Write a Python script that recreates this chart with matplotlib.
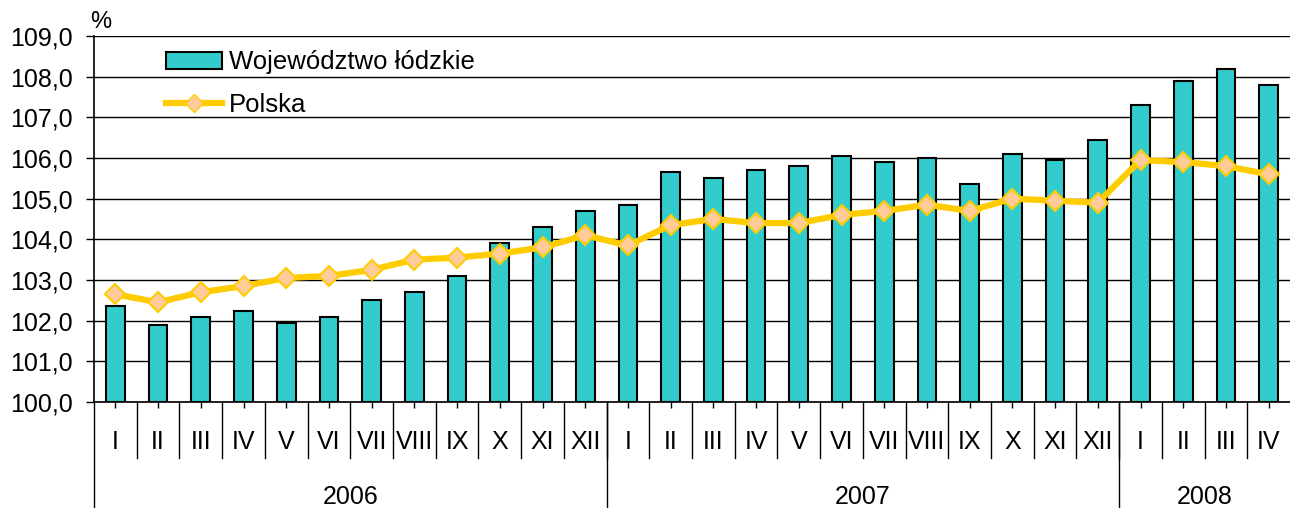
import matplotlib
matplotlib.use('Agg')
import matplotlib.pyplot as plt
import matplotlib.transforms as mtransforms
from matplotlib.lines import Line2D
from matplotlib.patches import Patch

plt.rcParams['font.family'] = ['Liberation Sans', 'DejaVu Sans']

months = ['I', 'II', 'III', 'IV', 'V', 'VI', 'VII', 'VIII', 'IX', 'X', 'XI', 'XII',
          'I', 'II', 'III', 'IV', 'V', 'VI', 'VII', 'VIII', 'IX', 'X', 'XI', 'XII',
          'I', 'II', 'III', 'IV']
years = ['2006', '2007', '2008']
year_counts = [12, 12, 4]

lodzkie = [102.35, 101.9, 102.1, 102.25, 101.95, 102.1, 102.5, 102.7, 103.1, 103.9, 104.3, 104.7,
           104.85, 105.65, 105.5, 105.7, 105.8, 106.05, 105.9, 106.0, 105.35, 106.1, 105.95, 106.45,
           107.3, 107.9, 108.2, 107.8]
polska = [102.65, 102.45, 102.7, 102.85, 103.05, 103.1, 103.25, 103.5, 103.55, 103.65, 103.8, 104.1,
          103.85, 104.35, 104.5, 104.4, 104.4, 104.6, 104.7, 104.85, 104.7, 105.0, 104.95, 104.9,
          105.95, 105.9, 105.8, 105.6]

fig = plt.figure(figsize=(12.9, 5.08), dpi=100)
ax = fig.add_axes([94 / 1290, 1 - 402 / 508, 1196 / 1290, 366 / 508])

x = list(range(len(months)))
ax.bar(x, [v - 100 for v in lodzkie], bottom=100, width=0.44, color='#33CCCC',
       edgecolor='black', linewidth=1.5, zorder=3, label='Województwo łódzkie')
ax.plot(x, polska, color='#FFCC00', linewidth=4.5, marker='D', markersize=10,
        markerfacecolor='#FFCC99', markeredgecolor='#FFCC00', markeredgewidth=1.5,
        zorder=4, label='Polska')

ax.set_xlim(-0.5, len(months) - 0.5)
ax.set_ylim(100, 109)
ax.set_yticks(range(100, 110))
ax.set_yticklabels([f'{v},0' for v in range(100, 110)], fontsize=18)
ax.yaxis.grid(True, color='black', linewidth=1)
ax.set_axisbelow(True)
for s in ['top', 'right']:
    ax.spines[s].set_visible(False)
ax.spines['left'].set_linewidth(1.2)
ax.spines['bottom'].set_linewidth(1.2)
ax.tick_params(axis='y', direction='out', length=6, width=1, pad=9)
ax.set_xticks(x)
ax.set_xticklabels([])
ax.tick_params(axis='x', direction='out', length=4, width=1)

ax.text(-0.003, 1.008, '%', transform=ax.transAxes, fontsize=17, ha='left', va='bottom')

# dwupoziomowa oś kategorii: miesiące i lata
trans = mtransforms.blended_transform_factory(ax.transData, ax.transAxes)
for i, m in enumerate(months):
    ax.text(i, -0.109, m, transform=trans, ha='center', va='center', fontsize=18)
for i in range(1, len(months)):
    ax.add_line(Line2D([i - 0.5, i - 0.5], [0, -0.153], transform=trans, color='black',
                       linewidth=1, clip_on=False))
start = 0
bounds = [-0.5]
for y, n in zip(years, year_counts):
    ax.text(start + (n - 1) / 2, -0.26, y, transform=trans, ha='center', va='center', fontsize=18)
    start += n
    bounds.append(start - 0.5)
for b in bounds[:-1]:
    ax.add_line(Line2D([b, b], [0, -0.3], transform=trans, color='black',
                       linewidth=1, clip_on=False))

ax.legend(handles=[Patch(facecolor='#33CCCC', edgecolor='black', linewidth=1.5,
                         label='Województwo łódzkie'),
                   Line2D([], [], color='#FFCC00', linewidth=4.5, marker='D', markersize=9,
                          markerfacecolor='#FFCC99', markeredgecolor='#FFCC00',
                          label='Polska')],
          loc='upper left', bbox_to_anchor=(0.052, 0.989), frameon=False, fontsize=18.5,
          handlelength=2.18, handleheight=0.66, labelspacing=0.72, handletextpad=0.25,
          borderaxespad=0)

fig.savefig('out.png', dpi=100)
